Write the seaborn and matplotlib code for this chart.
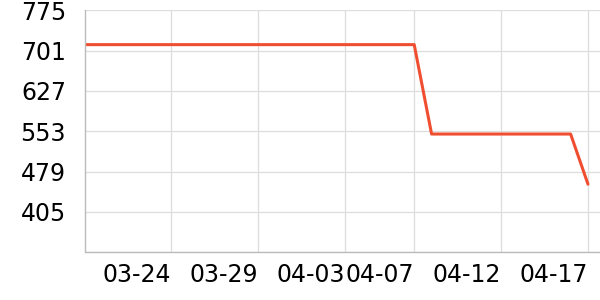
import matplotlib
matplotlib.use("Agg")
import matplotlib.pyplot as plt
import seaborn as sns
import pandas as pd

dates = pd.date_range("2024-03-19", "2024-04-17", freq="D")
values = [712] * 20 + [548] * 9 + [456]
y_ticks = [405, 479, 553, 627, 701, 775]
x_ticks = ["2024-03-24", "2024-03-29", "2024-04-03", "2024-04-07", "2024-04-12", "2024-04-17"]
x_labels = ["03-24", "03-29", "04-03", "04-07", "04-12", "04-17"]

df = pd.DataFrame({"date": dates, "value": values})

sns.set_style("white")
plt.rcParams["font.family"] = ["DejaVu Sans"]

fig = plt.figure(figsize=(6, 3), dpi=100)
ax = fig.add_axes([85.5 / 600, 1 - 252.3 / 300, (600 - 85.5) / 600, (252.3 - 10.3) / 300])

sns.lineplot(data=df, x="date", y="value", ax=ax, color="#F04E30", linewidth=2.2)

ax.set_ylim(331, 775)
ax.set_yticks([331] + y_ticks)
ax.set_yticklabels([""] + [str(v) for v in y_ticks])

xt = pd.to_datetime(x_ticks)
ax.set_xticks(xt)
ax.set_xticklabels(x_labels, ha="right")
left = pd.Timestamp("2024-03-19") + pd.Timedelta(hours=2)
right = pd.Timestamp("2024-04-17") + pd.Timedelta(hours=16.6)
ax.set_xlim(left, right)

ax.grid(True, color="#dddddd", linewidth=0.9)
ax.set_axisbelow(True)
for s in ["top", "right"]:
    ax.spines[s].set_visible(False)
for s in ["left", "bottom"]:
    ax.spines[s].set_color("#bbbbbb")
    ax.spines[s].set_linewidth(1.0)
ax.tick_params(axis="both", length=3, color="#bbbbbb", labelsize=17, labelcolor="black")
ax.tick_params(axis="y", pad=11)
ax.tick_params(axis="x", pad=5)
ax.set_xlabel("")
ax.set_ylabel("")

fig.savefig("out.png", dpi=100)
